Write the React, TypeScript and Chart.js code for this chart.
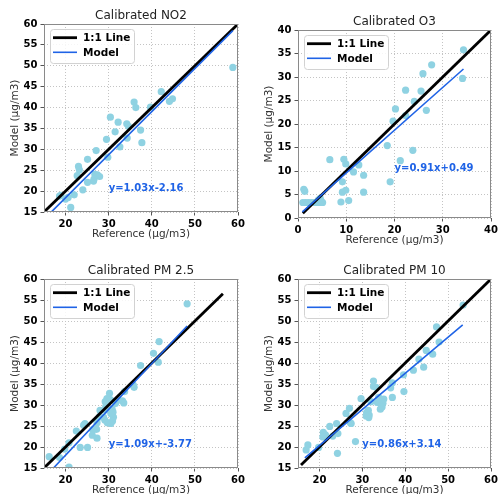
import React, { useEffect, useRef } from 'react';
import { Chart, registerables } from 'chart.js';

Chart.register(...registerables);

// ---------- data ----------
const no2Reference = [58.8, 42.2, 44.8, 44.1, 35.9, 36.3, 39.7, 30.4, 32.2, 31.5, 34.2, 34.6, 34.3, 32.6, 37.4, 37.7, 29.5, 29.8, 27.1, 25.1, 23.0, 23.2, 22.7, 26.8, 27.4, 27.9, 26.6, 25.1, 26.5, 24.0, 22.0, 20.0, 20.6, 18.9, 21.2, 18.6];
const no2Model = [49.6, 43.8, 42.1, 41.5, 41.3, 40.0, 40.1, 37.7, 36.5, 34.2, 36.1, 35.5, 32.7, 30.6, 34.6, 31.6, 32.4, 28.1, 29.7, 27.6, 25.9, 25.1, 23.7, 24.0, 23.9, 23.5, 22.9, 22.1, 22.4, 20.3, 19.1, 18.1, 18.5, 19.0, 16.1, 18.8];
const no2FitX = [16.3, 58.8];
const no2FitY = [14.6, 58.4];
const no2OneToOne = [15, 60];

const o3Reference = [34.3, 34.1, 27.7, 25.9, 25.5, 26.6, 22.3, 20.2, 19.7, 24.1, 22.3, 18.5, 23.8, 21.2, 19.1, 6.6, 9.5, 9.9, 12.6, 11.5, 13.6, 9.2, 9.2, 9.9, 13.6, 10.5, 8.9, 1.2, 1.4, 1.0, 1.6, 2.2, 2.8, 3.4, 4.0, 4.6, 5.1, 4.6, 4.2, 4.8];
const o3Model = [35.8, 29.7, 32.6, 30.7, 27.0, 22.9, 27.2, 23.2, 20.6, 24.8, 21.8, 15.4, 14.4, 12.2, 7.7, 12.4, 12.5, 11.5, 11.3, 9.8, 9.1, 7.7, 5.5, 5.9, 5.5, 3.7, 3.4, 6.1, 5.7, 3.3, 3.3, 3.3, 3.3, 3.3, 3.3, 3.3, 3.3, 4.2, 3.8, 3.6];
const o3FitX = [0.9, 34.3];
const o3FitY = [1.3, 31.7];
const o3OneToOne = [1, 40];

const pm25Reference = [48.2, 41.7, 40.4, 41.5, 37.4, 35.9, 35.7, 33.7, 33.2, 33.5, 30.2, 29.6, 29.2, 30.4, 31.6, 32.2, 29.3, 30.8, 31.0, 28.8, 29.1, 29.7, 31.1, 30.9, 30.5, 30.5, 28.0, 27.8, 27.3, 27.2, 26.3, 26.2, 27.3, 24.5, 24.2, 22.5, 26.6, 23.4, 25.1, 20.8, 18.6, 16.2, 20.8, 19.8, 29.3];
const pm25Model = [54.1, 45.1, 42.3, 40.2, 39.4, 34.2, 34.8, 33.2, 31.0, 30.5, 32.8, 31.5, 30.8, 31.3, 30.4, 31.2, 29.5, 29.0, 28.3, 27.1, 26.4, 25.8, 27.1, 26.2, 25.6, 28.0, 28.7, 27.1, 25.8, 24.2, 24.1, 22.8, 22.1, 25.6, 25.2, 23.8, 24.2, 19.9, 19.9, 21.0, 17.5, 17.7, 15.2, 19.5, 28.8];
const pm25FitX = [16.2, 48.2];
const pm25FitY = [13.9, 48.8];
const pm25OneToOne = [15, 56.5];

const pm10Reference = [53.5, 47.3, 47.9, 44.9, 46.4, 43.2, 44.3, 41.9, 39.6, 39.7, 37.0, 37.0, 36.6, 32.6, 32.6, 33.2, 34.4, 34.8, 34.6, 35.0, 33.5, 33.8, 31.4, 31.0, 31.6, 30.9, 31.5, 29.7, 27.0, 26.2, 27.4, 27.2, 24.0, 22.4, 20.9, 21.4, 20.8, 23.1, 24.3, 17.3, 16.9, 19.8, 28.4, 24.2, 34.2, 32.0];
const pm10Model = [53.8, 48.6, 45.0, 43.0, 42.1, 40.9, 39.0, 38.3, 37.2, 33.2, 35.3, 31.8, 34.1, 35.7, 34.4, 34.2, 31.2, 30.4, 29.5, 31.4, 30.6, 31.8, 28.7, 28.2, 27.6, 27.4, 27.0, 31.5, 29.2, 28.0, 25.6, 25.8, 25.6, 24.9, 23.5, 22.9, 22.4, 22.6, 23.2, 20.5, 19.3, 19.9, 21.3, 18.5, 29.0, 30.8];
const pm10FitX = [16.6, 53.4];
const pm10FitY = [17.4, 49.1];
const pm10OneToOne = [15.7, 60];

const ticks15to60 = [15, 20, 25, 30, 35, 40, 45, 50, 55, 60];
const xTicks20to60 = [20, 30, 40, 50, 60];
const ticks0to40 = [0, 5, 10, 15, 20, 25, 30, 35, 40];
const xTicks0to40 = [0, 10, 20, 30, 40];

const titles = ['Calibrated NO2', 'Calibrated O3', 'Calibrated PM 2.5', 'Calibrated PM 10'];
const fitLabels = ['y=1.03x-2.16', 'y=0.91x+0.49', 'y=1.09x+-3.77', 'y=0.86x+3.14'];

// ---------- styles ----------
const SCATTER = '#8fd2e2';
const BLUE = '#1f63e6';
const GRID = '#c4c4c4';
const FRAME = '#8a8a8a';
const FONT = '"DejaVu Sans", sans-serif';

const Y_AXIS_W = 44;
const X_AXIS_H = 35;
const PAD_TOP = 24;
const PAD_RIGHT = 12;

type Panel = {
  title: string;
  ref: number[];
  model: number[];
  fitX: number[];
  fitY: number[];
  oneToOne: number[];
  fitLabel: string;
  labelAt: [number, number];
  xRange: [number, number];
  yRange: [number, number];
  xTicks: number[];
  yTicks: number[];
  plot: { l: number; t: number; r: number; b: number };
};

const panels: Panel[] = [
  { title: titles[0], ref: no2Reference, model: no2Model, fitX: no2FitX, fitY: no2FitY, oneToOne: no2OneToOne, fitLabel: fitLabels[0], labelAt: [30, 20], xRange: [15, 60], yRange: [15, 60], xTicks: xTicks20to60, yTicks: ticks15to60, plot: { l: 44, t: 24, r: 238, b: 212 } },
  { title: titles[1], ref: o3Reference, model: o3Model, fitX: o3FitX, fitY: o3FitY, oneToOne: o3OneToOne, fitLabel: fitLabels[1], labelAt: [20, 10], xRange: [0, 40], yRange: [0, 40], xTicks: xTicks0to40, yTicks: ticks0to40, plot: { l: 298, t: 30, r: 491, b: 218 } },
  { title: titles[2], ref: pm25Reference, model: pm25Model, fitX: pm25FitX, fitY: pm25FitY, oneToOne: pm25OneToOne, fitLabel: fitLabels[2], labelAt: [30, 20], xRange: [15, 60], yRange: [15, 60], xTicks: xTicks20to60, yTicks: ticks15to60, plot: { l: 44, t: 279, r: 238, b: 468 } },
  { title: titles[3], ref: pm10Reference, model: pm10Model, fitX: pm10FitX, fitY: pm10FitY, oneToOne: pm10OneToOne, fitLabel: fitLabels[3], labelAt: [30, 20], xRange: [15, 60], yRange: [15, 60], xTicks: xTicks20to60, yTicks: ticks15to60, plot: { l: 298, t: 279, r: 491, b: 468 } },
];

const decorPlugin = {
  id: 'decor',
  afterDatasetsDraw(chart: any, _args: any, opts: any) {
    const { ctx, chartArea } = chart;
    const { left, top, right, bottom } = chartArea;
    const xs = chart.scales.x;
    const ys = chart.scales.y;
    ctx.save();
    // frame
    ctx.strokeStyle = FRAME;
    ctx.lineWidth = 1;
    ctx.strokeRect(Math.round(left) + 0.5, Math.round(top) + 0.5, Math.round(right - left) - 1, Math.round(bottom - top) - 1);
    // fit annotation
    ctx.fillStyle = BLUE;
    ctx.font = `bold 10px ${FONT}`;
    ctx.textAlign = 'left';
    ctx.textBaseline = 'alphabetic';
    ctx.fillText(opts.fitLabel, xs.getPixelForValue(opts.labelAt[0]), ys.getPixelForValue(opts.labelAt[1]));
    // legend
    const lx = left + 6;
    const ly = top + 5;
    const w = 84;
    const h = 34;
    ctx.fillStyle = 'rgba(255,255,255,0.85)';
    ctx.strokeStyle = '#d2d2d2';
    ctx.beginPath();
    (ctx as any).roundRect(Math.round(lx) + 0.5, Math.round(ly) + 0.5, w, h, 3);
    ctx.fill();
    ctx.stroke();
    const items = chart.data.datasets.filter((d: any) => d.type === 'line');
    items.forEach((d: any, i: number) => {
      const yy = ly + 8.7 + i * 14.6;
      ctx.strokeStyle = d.borderColor;
      ctx.lineWidth = d.borderWidth;
      ctx.beginPath();
      ctx.moveTo(lx + 3, yy);
      ctx.lineTo(lx + 27, yy);
      ctx.stroke();
      ctx.fillStyle = '#000';
      ctx.font = `bold 10.5px ${FONT}`;
      ctx.textBaseline = 'middle';
      ctx.fillText(d.label, lx + 33, yy + 0.5);
    });
    // title
    ctx.fillStyle = '#222';
    ctx.font = `12px ${FONT}`;
    ctx.textAlign = 'center';
    ctx.textBaseline = 'alphabetic';
    ctx.fillText(opts.title, (left + right) / 2, top - 5);
    ctx.restore();
  },
};

function ScatterPanel({ p }: { p: Panel }) {
  const canvasRef = useRef<HTMLCanvasElement>(null);
  const cw = p.plot.r - p.plot.l + Y_AXIS_W + PAD_RIGHT;
  const ch = p.plot.b - p.plot.t + PAD_TOP + X_AXIS_H;

  useEffect(() => {
    const canvas = canvasRef.current;
    if (!canvas) return;
    const tickFont = { family: FONT, size: 10, weight: 'bold' as const };
    const titleFont = { family: FONT, size: 10.5 };
    const chart = new Chart(canvas, {
      type: 'scatter',
      data: {
        datasets: [
          {
            label: 'Data',
            data: p.ref.map((x, i) => ({ x, y: p.model[i] })),
            backgroundColor: SCATTER,
            borderWidth: 0,
            pointRadius: 3.6,
            order: 3,
          } as any,
          {
            type: 'line',
            label: '1:1 Line',
            data: p.oneToOne.map((v) => ({ x: v, y: v })),
            borderColor: '#000000',
            borderWidth: 2.8,
            pointRadius: 0,
            fill: false,
            order: 2,
            clip: 0,
          } as any,
          {
            type: 'line',
            label: 'Model',
            data: p.fitX.map((x, i) => ({ x, y: p.fitY[i] })),
            borderColor: BLUE,
            borderWidth: 1.6,
            pointRadius: 0,
            fill: false,
            order: 1,
            clip: 0,
          } as any,
        ],
      },
      options: {
        responsive: false,
        animation: false,
        devicePixelRatio: 1,
        layout: { padding: { left: 0, top: PAD_TOP, right: PAD_RIGHT, bottom: 0 } },
        plugins: {
          legend: { display: false },
          tooltip: { enabled: false },
          title: { display: false },
          decor: { title: p.title, fitLabel: p.fitLabel, labelAt: p.labelAt },
        } as any,
        scales: {
          x: {
            type: 'linear',
            position: 'bottom',
            min: p.xRange[0],
            max: p.xRange[1],
            afterBuildTicks: (s: any) => {
              s.ticks = p.xTicks.map((v) => ({ value: v }));
            },
            afterFit: (s: any) => {
              s.height = X_AXIS_H;
            },
            grid: { color: GRID, lineWidth: 1, drawTicks: true, tickLength: 3.5, tickColor: '#555', tickWidth: 1, tickBorderDash: [] } as any,
            border: { display: false, dash: [1, 2] },
            ticks: { font: tickFont, color: '#000', padding: 3, maxRotation: 0, autoSkip: false, callback: (v: any) => String(v) },
            title: { display: true, text: 'Reference (µg/m3)', font: titleFont, color: '#333', padding: { top: 0, bottom: 6.7 } },
          },
          y: {
            type: 'linear',
            position: 'left',
            min: p.yRange[0],
            max: p.yRange[1],
            afterBuildTicks: (s: any) => {
              s.ticks = p.yTicks.map((v) => ({ value: v }));
            },
            afterFit: (s: any) => {
              s.width = Y_AXIS_W;
            },
            grid: { color: GRID, lineWidth: 1, drawTicks: true, tickLength: 3.5, tickColor: '#555', tickWidth: 1, tickBorderDash: [] } as any,
            border: { display: false, dash: [1, 2] },
            ticks: { font: tickFont, color: '#000', padding: 3, autoSkip: false, callback: (v: any) => String(v) },
            title: { display: true, text: 'Model (µg/m3)', font: titleFont, color: '#333', padding: { top: 8.7, bottom: 0 } },
          },
        },
      },
      plugins: [decorPlugin],
    });
    return () => chart.destroy();
  }, [p]);

  return (
    <canvas
      ref={canvasRef}
      width={cw}
      height={ch}
      style={{ position: 'absolute', left: p.plot.l - Y_AXIS_W, top: p.plot.t - PAD_TOP, width: cw, height: ch }}
    />
  );
}

export default function App() {
  return (
    <div style={{ position: 'absolute', left: 0, top: 0, width: 500, height: 494, overflow: 'hidden', background: '#ffffff' }}>
      {panels.map((p) => (
        <ScatterPanel key={p.title} p={p} />
      ))}
    </div>
  );
}
